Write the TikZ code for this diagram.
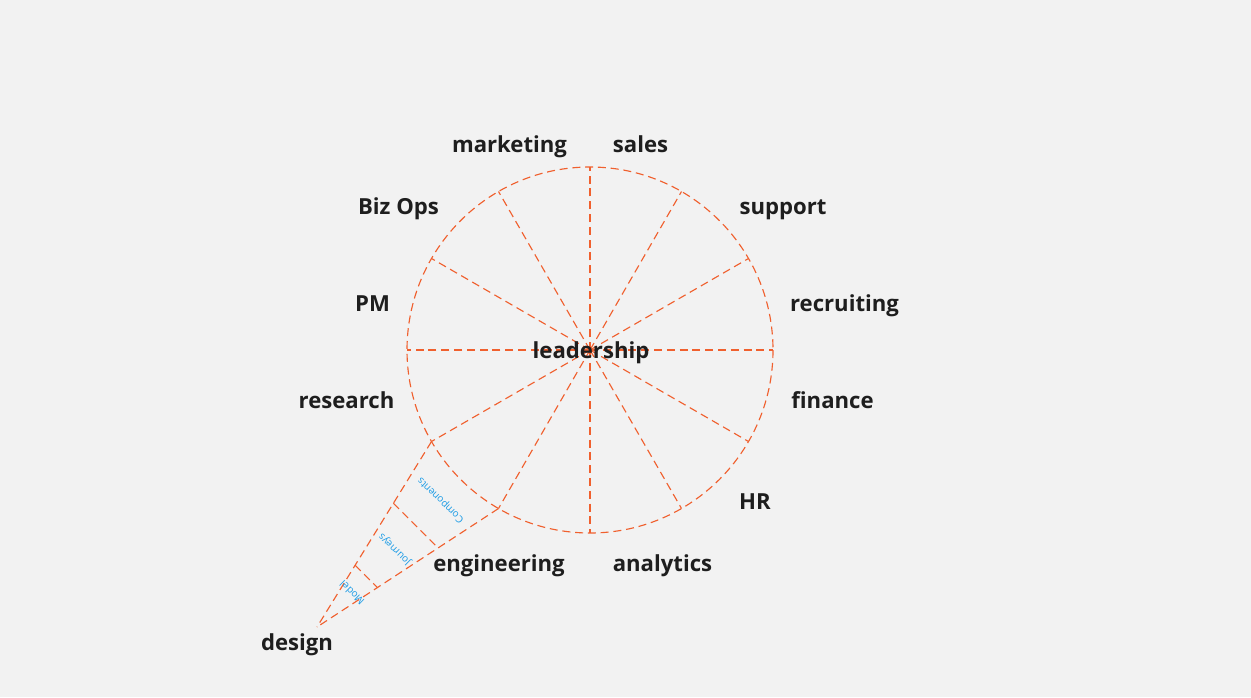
\documentclass[tikz,border=0pt]{standalone}
\usepackage{fontspec}
\setmainfont{Open Sans}
\usetikzlibrary{calc}
\definecolor{bg}{HTML}{F2F2F2}
\definecolor{dashc}{HTML}{F0602E}
\definecolor{txt}{HTML}{1E1E1E}
\definecolor{bluet}{HTML}{1A9BE6}
\begin{document}
\begin{tikzpicture}[x=0.75pt,y=-0.75pt,
  spoke/.style={draw=dashc,line width=0.85pt,dash pattern=on 6pt off 3.6pt},
  lbl/.style={text=txt,font=\fontsize{16.6}{18}\selectfont\bfseries,anchor=base,inner sep=0pt},
  sublbl/.style={text=bluet,font=\fontsize{7.5}{8}\selectfont,inner sep=0pt,rotate=136}]
\fill[bg] (0,0) rectangle (1251,697);
\useasboundingbox (0,0) rectangle (1251,697);
\coordinate (c) at (590,350);
\draw[spoke] (c) circle[radius=183];
\foreach \a in {0,30,...,330}{
  \draw[spoke] (c) -- ($(c)+(\a:183)$);
}
% wedge
\coordinate (wl) at ($(c)+(150:183)$);
\coordinate (wr) at ($(c)+(120:183)$);
\coordinate (apex) at (317,627);
\draw[spoke] (wl) -- (apex);
\draw[spoke] (wr) -- (apex);
\draw[spoke] ($(apex)!0.667!(wl)$) -- ($(apex)!0.667!(wr)$);
\draw[spoke] ($(apex)!0.333!(wl)$) -- ($(apex)!0.333!(wr)$);
\node[sublbl] (comp) at (441,500) {Components};
\node[sublbl] (jour) at (395,549) {Journeys};
\node[sublbl] (model) at (352,593) {Model};
% labels
\node[lbl] (lead) at (591,358) {leadership};
\node[lbl] (mkt) at (509.5,152) {marketing};
\node[lbl] (sales) at (640.5,152) {sales};
\node[lbl] (biz) at (398.5,214) {Biz Ops};
\node[lbl] (sup) at (783,214) {support};
\node[lbl] (pm) at (372.5,311) {PM};
\node[lbl] (rec) at (844.5,311) {recruiting};
\node[lbl] (res) at (346.5,408) {research};
\node[lbl] (fin) at (832.5,408) {finance};
\node[lbl] (hr) at (755,509) {HR};
\node[lbl] (eng) at (499,571) {engineering};
\node[lbl] (ana) at (662.5,571) {analytics};
\node[lbl] (des) at (297,650) {design};
\end{tikzpicture}
\end{document}
